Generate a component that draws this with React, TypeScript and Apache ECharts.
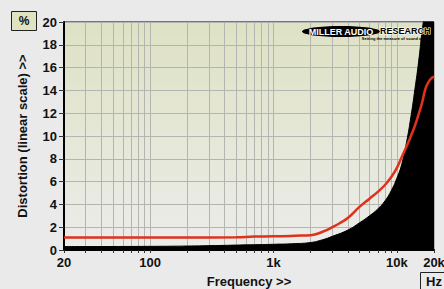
import React, { useEffect, useRef } from "react";
import * as echarts from "echarts";

const gridFreqs = [20, 30, 40, 50, 60, 70, 80, 90, 100, 200, 300, 400, 500, 600, 700, 800, 900, 1000, 2000, 3000, 4000, 5000, 6000, 7000, 8000, 9000, 10000, 20000];
const labelFreqs = [20, 100, 1000, 10000, 20000];
const labelTexts = ["20", "100", "1k", "10k", "20k"];

const thdFreqs = [20, 50, 100, 200, 500, 700, 1000, 1500, 2000, 2500, 3000, 3500, 4000, 5000, 6000, 7000, 8000, 9000, 10000, 11000, 12000, 13000, 14000, 15000, 16000, 17000, 18000, 19000, 20000];
const thdValues = [1.1, 1.1, 1.1, 1.1, 1.12, 1.18, 1.2, 1.25, 1.3, 1.6, 2.0, 2.4, 2.8, 3.8, 4.5, 5.1, 5.7, 6.4, 7.2, 8.2, 9.1, 10.0, 10.9, 11.9, 12.9, 14.1, 14.7, 15.05, 15.2];

const noiseFreqs = [20, 100, 300, 600, 1000, 1500, 2000, 2500, 3000, 4000, 5000, 6000, 7000, 8000, 9000, 10000, 11000, 12000, 13000, 14000, 15000, 16000, 16500, 17000, 20000];
const noiseValues = [0.3, 0.32, 0.38, 0.45, 0.5, 0.56, 0.66, 0.9, 1.2, 1.75, 2.4, 3.0, 3.6, 4.3, 5.2, 6.3, 7.6, 9.5, 11.7, 14.1, 16.5, 19.2, 20.3, 22, 30];

export default function App() {
  const ref = useRef<HTMLDivElement>(null);
  useEffect(() => {
    if (!ref.current) return;
    const chart = echarts.init(ref.current, null, { renderer: "svg" });
    const font = "Liberation Sans, Arial, sans-serif";
    chart.setOption({
      animation: false,
      backgroundColor: "#eaeaea",
      grid: {
        left: 64,
        top: 22,
        width: 370,
        height: 228,
        outerBoundsMode: "none",
        containLabel: false,
        show: true,
        borderColor: "#000",
        borderWidth: 1,
        backgroundColor: new echarts.graphic.LinearGradient(0, 0, 0, 1, [
          { offset: 0, color: "#dee2c4" },
          { offset: 1, color: "#ececea" },
        ]),
      },
      xAxis: {
        type: "log",
        logBase: 10,
        min: 20,
        max: 20000,
        name: "Frequency >>",
        nameLocation: "middle",
        nameGap: 25,
        nameTextStyle: { fontFamily: font, fontWeight: "bold", fontSize: 13, color: "#111" },
        axisLine: { show: true, lineStyle: { color: "#000", width: 2 } },
        axisTick: { show: true, customValues: gridFreqs, length: 3, lineStyle: { color: "#333" } },
        axisLabel: {
          customValues: labelFreqs,
          margin: 6,
          fontFamily: font,
          fontWeight: "bold",
          fontSize: 13,
          color: "#111",
          formatter: (v: number) => {
            const i = labelFreqs.findIndex((f) => Math.abs(f - v) < 1e-6 * f);
            return i >= 0 ? labelTexts[i] : "";
          },
        },
        splitLine: { show: true, lineStyle: { color: "#b4b4b0", width: 1 } },
        minorTick: { show: false },
      },
      yAxis: {
        type: "value",
        min: 0,
        max: 20,
        interval: 2,
        name: "Distortion (linear scale) >>",
        nameLocation: "middle",
        nameGap: 35,
        nameTextStyle: { fontFamily: font, fontWeight: "bold", fontSize: 13, color: "#111" },
        axisLine: { show: true, lineStyle: { color: "#000", width: 2 } },
        axisTick: { show: true, length: 5, lineStyle: { color: "#333" } },
        axisLabel: { margin: 7, fontFamily: font, fontWeight: "bold", fontSize: 13, color: "#111" },
        splitLine: { show: true, lineStyle: { color: "#b4b4b0", width: 1 } },
      },
      series: [
        {
          type: "line",
          data: noiseFreqs.map((f, i) => [f, noiseValues[i]]),
          smooth: true,
          showSymbol: false,
          lineStyle: { color: "#000", width: 1 },
          areaStyle: { color: "#000", opacity: 1 },
          z: 2,
        },
        {
          type: "line",
          data: thdFreqs.map((f, i) => [f, thdValues[i]]),
          smooth: true,
          showSymbol: false,
          lineStyle: { color: "#e0301e", width: 2.5 },
          z: 3,
        },
      ],
      graphic: [
        {
          type: "rect",
          shape: { x: 11.5, y: 11.5, width: 25, height: 19 },
          style: { fill: "#e0e3c2", stroke: "#222", lineWidth: 1 },
        },
        {
          type: "text",
          x: 24,
          y: 21,
          style: { text: "%", font: `bold 12px ${font}`, fill: "#111", align: "center", verticalAlign: "middle" },
        },
        {
          type: "rect",
          shape: { x: 420.5, y: 272.5, width: 30, height: 20 },
          style: { fill: "#eaeaea", stroke: "#222", lineWidth: 1 },
        },
        {
          type: "text",
          x: 434,
          y: 281,
          style: { text: "Hz", font: `bold 13px ${font}`, fill: "#111", align: "center", verticalAlign: "middle" },
        },
        {
          type: "ellipse",
          shape: { cx: 341, cy: 31.5, rx: 39, ry: 5.5 },
          style: { fill: "#000" },
          z: 10,
        },
        {
          type: "text",
          x: 341,
          y: 31.5,
          style: { text: "MILLER AUDIO", font: `bold 9px ${font}`, fill: "#fff", align: "center", verticalAlign: "middle" },
          z: 11,
        },
        {
          type: "text",
          x: 380,
          y: 31,
          style: { text: "RESEARCH", font: `bold 9px ${font}`, fill: "#000", stroke: "#fff", lineWidth: 1.2, align: "left", verticalAlign: "middle" },
          z: 11,
        },
        {
          type: "text",
          x: 432,
          y: 38.5,
          style: { text: "Setting the measure of sound quality", font: `bold 4px ${font}`, fill: "#000", align: "right", verticalAlign: "middle" },
          z: 11,
        },
      ],
    });
    return () => chart.dispose();
  }, []);
  return <div ref={ref} style={{ position: "fixed", left: 0, top: 0, width: 444, height: 289 }} />;
}
